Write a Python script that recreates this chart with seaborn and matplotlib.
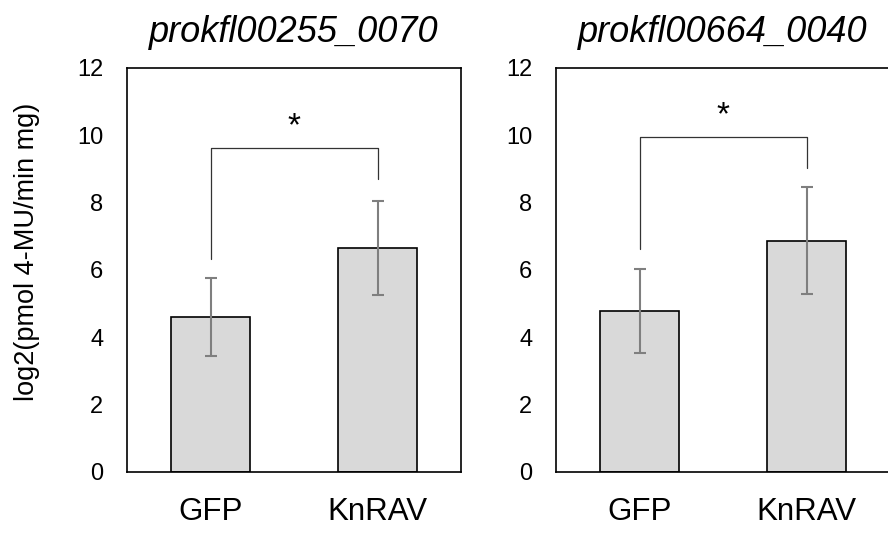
import pandas as pd
import seaborn as sns
import matplotlib.pyplot as plt

# values
groups = ['GFP', 'KnRAV']
genes = ['prokfl00255_0070', 'prokfl00664_0040']
means_0070 = [4.60, 6.66]
sd_0070 = [1.16, 1.40]
means_0040 = [4.77, 6.87]
sd_0040 = [1.25, 1.59]

# significance bracket: top line, left leg end, right leg end
bracket_0070 = [9.62, 6.32, 8.71]
bracket_0040 = [9.95, 6.63, 9.04]
stars = ['*', '*']

sns.set_style('white')
plt.rcParams['font.family'] = ['Liberation Sans', 'DejaVu Sans']
plt.rcParams['text.color'] = 'black'
plt.rcParams['xtick.color'] = 'black'
plt.rcParams['ytick.color'] = 'black'

fig = plt.figure(figsize=(8.88, 5.45), dpi=100)
W, H = 888, 545
# axes boxes in pixels: left, top, right, bottom
boxes = [(127, 68, 461, 472), (556, 68, 890, 472)]

panels = [(means_0070, sd_0070, bracket_0070), (means_0040, sd_0040, bracket_0040)]

for i, (means, sds, br) in enumerate(panels):
    l, t, r, b = boxes[i]
    ax = fig.add_axes([l / W, 1 - b / H, (r - l) / W, (b - t) / H])
    df = pd.DataFrame({'group': groups, 'value': means})
    sns.barplot(data=df, x='group', y='value', ax=ax, color='#d9d9d9',
                saturation=1, edgecolor='black', linewidth=1.2, width=0.475,
                errorbar=None)
    ax.errorbar(x=range(len(groups)), y=means, yerr=sds, fmt='none',
                ecolor='#7f7f7f', elinewidth=1.5, capsize=4.3, capthick=1.5)

    # bracket
    ax.plot([0, 0, 1, 1], [br[1], br[0], br[0], br[2]], color='#333333', lw=0.9)
    ax.text(0.5, br[0] + 0.62, stars[i], ha='center', va='center', fontsize=24)

    ax.set_xlim(-0.5, 1.5)
    ax.set_ylim(0, 12)
    ax.set_yticks(range(0, 13, 2))
    ax.tick_params(axis='y', length=0, pad=17, labelsize=17)
    ax.tick_params(axis='x', length=0, pad=18, labelsize=22.5)
    ax.set_xlabel('')
    ax.set_ylabel('')
    for s in ax.spines.values():
        s.set_visible(True)
        s.set_color('black')
        s.set_linewidth(1.2)
    ax.set_title(genes[i], fontsize=26, style='italic', pad=18.5)

fig.text(27 / W, 1 - 252 / H, 'log2(pmol 4-MU/min mg)', rotation=90,
         ha='center', va='center', fontsize=19.5)

fig.savefig('out.png', dpi=100)
